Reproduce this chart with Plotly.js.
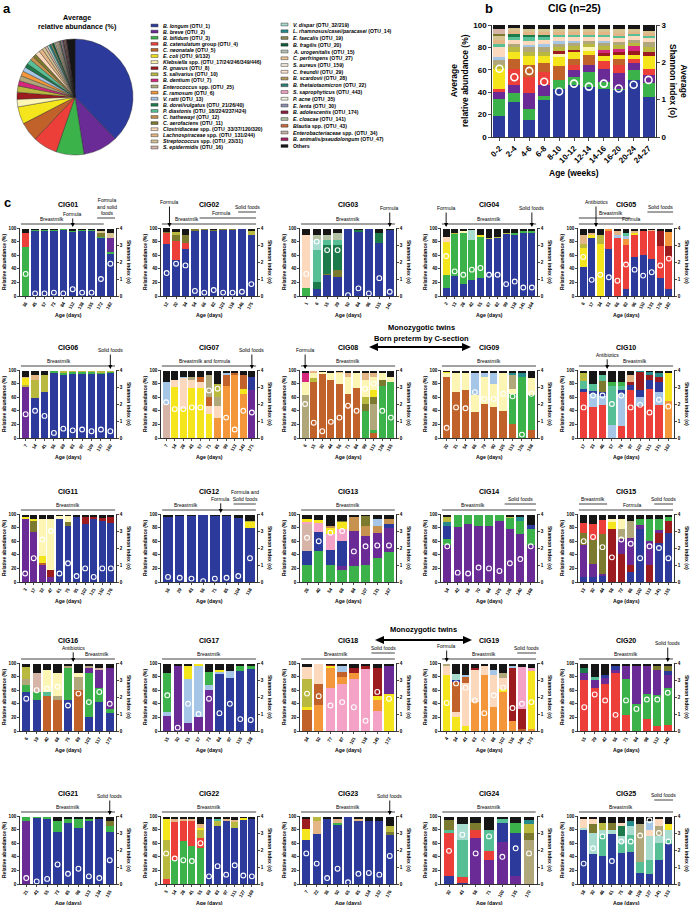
<!DOCTYPE html>
<html><head><meta charset="utf-8">
<script src="https://cdn.plot.ly/plotly-3.0.1.min.js"></script>
<style>body{margin:0;background:#fff}#chart{width:694px;height:905px}</style>
</head><body><div id="chart"></div>
<script>
// ---------------- taxa ----------------
const TAXA_KEYS = ['L','Br','Bi','Ca','Cn','Ec','Kl','Rg','Ss','Bd','En','Er','Vr','Do','Pd','Ch','Cae','Cl','La','St','Se',
  'Vd','Lr','Ef','Bf','Au','Cp','Sa','Cf','Bs','Bt','Ssa','Pa','El','Bad','Ecl','Bl','Eb','Ba','O'];
const TAXA_NAMES = [
'<i>B. longum</i> (OTU_1)','<i>B. breve</i> (OTU_2)','<i>B. bifidum</i> (OTU_3)','<i>B. catenulatum</i> group (OTU_4)',
'<i>C. neonatale</i> (OTU_5)','<i>E. coli</i> (OTU_9/132)','<i>Klebsiella</i> spp. (OTU_17/24/246/349/446)','<i>R. gnavus</i> (OTU_8)',
'<i>S. salivarius</i> (OTU_10)','<i>B. dentium</i> (OTU_7)','<i>Enterococcus</i> spp. (OTU_25)','<i>E. ramosum</i> (OTU_6)',
'<i>V. ratti</i> (OTU_13)','<i>B. dorei/vulgatus</i> (OTU_21/26/40)','<i>P. diastonis</i> (OTU_18/224/237/424)','<i>C. hathewayi</i> (OTU_12)',
'<i>C. aerofaciens</i> (OTU_11)','<i>Clostridiaceae</i> spp. (OTU_33/37/120/320)','<i>Lachnospiraceae</i> spp. (OTU_131/244)',
'<i>Streptococcus</i> spp. (OTU_23/31)','<i>S. epidermidis</i> (OTU_16)',
'<i>V. dispar</i> (OTU_32/219)','<i>L. rhamnosus/casei/paracasei</i> (OTU_14)','<i>E. faecalis</i> (OTU_19)','<i>B. fragilis</i> (OTU_20)',
'<i>A. urogenitalis</i> (OTU_15)','<i>C. perfringens</i> (OTU_27)','<i>S. aureus</i> (OTU_159)','<i>C. freundii</i> (OTU_29)',
'<i>B. scardovii</i> (OTU_28)','<i>B. thetaiotaomicron</i> (OTU_22)','<i>S. saprophyticus</i> (OTU_443)','<i>P. acne</i> (OTU_35)',
'<i>E. lenta</i> (OTU_30)','<i>B. adolescentis</i> (OTU_174)','<i>E. cloacae</i> (OTU_141)','<i>Blautia</i> spp. (OTU_43)',
'<i>Enterobacteriaceae</i> spp. (OTU_34)','<i>B. animalis/pseudolongum</i> (OTU_47)','Others'];
const TAXA_COLORS = ['#2b3a9b','#6a2b96','#3bb34a','#ec3f3a','#c1622a','#f5e51c','#fcf5b4','#9b1b1f','#b9b93f','#d5287c',
  '#b0a87a','#f4973a','#a5c6e6','#1d7a4b','#57bf95','#c79150','#7c7a2e','#fcd9bd','#e5b685','#d7c493','#d6b5a8',
  '#a8dccf','#268b8c','#8b8a55','#0e5c36','#b5c5b5','#efc693','#f2eadd','#fbe1cb','#b79b5e','#2e7d73','#f4a3c7',
  '#f0f0df','#8d8eb4','#8a1d3c','#b3c3a3','#c6693b','#c3b3a6','#a0215f','#161616'];

// ---------------- panel a ----------------
const PIE_VALUES = [39,10,8,7,5.5,5,2.2,2,1.8,1.5,1.5,1.4,1.3,1.1,1.5,1.1,1.0,1.3,1.1,0.9,0.7,
  0.6,0.5,0.5,0.5,0.4,0.4,0.3,0.3,0.3,0.3,0.3,0.2,0.2,0.2,0.2,0.2,0.2,0.2,2.4];

// ---------------- panel b ----------------
const B_AGES = ['0-2','2-4','4-6','6-8','8-10','10-12','12-14','14-16','16-20','20-24','24-27'];
const B_SHANNON = [1.83,1.6,1.77,1.48,1.22,1.43,1.35,1.43,1.3,1.4,1.53];
const B_STACK = {
  L:[19,31,15,33,43,46,45,43,42,51,36], Bi:[15,8,10,4,8,8,13,6,1,9,12], Br:[6,7,14,9,0,6,6,12,14,6,7],
  Ca:[3,15,15,12,0,4,0,7,7,4,6], Cn:[0,9,10,8,12,6,9,0,6,0,0], Ec:[18,6,8,6,8,6,4,4,3,3,11],
  Kl:[0,0,0,0,3,0,3,0,0,0,0], Rg:[0,0,0,0,3,2,0,3,3,4,4], Bd:[0,0,0,0,0,0,0,3,3,4,0],
  Ss:[3,4,4,4,3,3,3,3,3,3,4], En:[5,3,4,4,3,3,3,3,3,3,5], Vr:[2,0,2,3,3,2,0,2,0,0,0],
  Cl:[9,4,4,4,3,3,3,3,3,3,3], Pd:[3,2,3,2,2,2,2,2,2,2,2], Do:[0,3,2,2,0,0,0,0,0,0,0],
  La:[4,3,3,3,3,3,3,3,3,2,3], St:[3,2,2,2,2,2,2,2,3,2,2], Cae:[2,0,0,0,0,0,0,0,0,0,0],
  Se:[4,0,0,0,0,0,0,0,0,0,0], O:[4,3,4,4,4,4,4,4,4,4,5]};

// ---------------- panel c : one small object per infant ----------------
const CIG01 = {age:['36','45','57','73','84','112','138','155','172','182'], sh:[1.3,0.15,0.15,0.2,0.15,0.4,0.2,0.2,1.0,1.9],
  L:[0,96,96,96,97,94,96,96,85,62], Bi:[72,1,1,1,1,1,1,1,2,3], Br:[0,0,0,0,0,0,0,0,0,20], Ca:[20,0,0,0,0,0,0,0,0,0],
  Cae:[0,0,0,0,0,0,0,0,5,0], St:[0,0,0,0,0,0,0,0,3,8], O:[7,2,2,2,1,4,2,2,3,5]};
const CIG02 = {age:['12','20','34','54','66','82','103','118','146','175'], sh:[1.35,1.9,1.8,0.3,0.2,0.35,0.2,0.2,0.25,0.7],
  L:[77,53,69,96,97,95,97,97,98,89], Ca:[15,28,9,0,0,0,0,0,0,0], Cae:[2,9,12,2,1,2,1,1,0,0], Ss:[0,4,0,0,0,0,0,0,0,6],
  O:[6,5,9,1,1,2,1,1,1,4]};
const CIG03 = {age:['1','6','15','29','50','84','96','115','141'], sh:[1.3,3.2,2.7,2.7,0.05,0.45,0.15,1.05,0.25],
  L:[0,10,31,28,99,94,99,78,97], Bi:[12,0,0,0,0,0,0,0,0], Cae:[0,0,2,10,0,0,0,0,0], Do:[0,10,42,37,0,3,0,15,0],
  Pd:[0,48,7,7,0,0,0,0,0], Vd:[0,14,0,0,0,0,0,0,0], Ecl:[0,8,8,10,0,0,0,0,0], Cl:[77,0,0,0,0,0,0,0,0], O:[9,8,9,7,0,2,0,6,2]};
const CIG04 = {age:['2','13','28','42','55','67','82','99','118','141','164'], sh:[2.35,1.45,1.25,1.55,1.65,1.25,1.25,0.7,0.85,0.5,0.5],
  L:[12,30,18,23,26,84,85,91,90,92,93], Bi:[19,61,75,59,61,0,0,0,2,3,3], Ec:[49,0,0,0,3,0,0,0,0,0,0],
  Ss:[0,2,0,0,0,2,2,2,0,0,0], Kl:[0,0,2,0,0,0,0,0,0,0,0], Vd:[0,0,0,15,0,0,0,0,0,0,0], Cl:[7,0,0,0,0,0,0,0,0,0,0],
  O:[12,6,4,2,9,13,12,6,7,4,3]};
const CIG05 = {age:['6','17','34','53','66','82','96','110','133','176','182'], sh:[2.3,0.95,1.25,1.1,0.9,1.85,1.55,1.2,1.4,1.8,2.2],
  L:[43,85,0,69,0,10,57,61,55,27,11], Ca:[0,0,0,27,86,65,33,35,40,47,48], Ec:[27,5,76,0,0,0,3,0,0,0,0],
  Ss:[7,0,14,0,0,0,0,0,0,0,0], Rg:[0,0,0,0,0,0,0,0,0,21,14], Er:[0,0,0,2,0,9,0,0,0,0,21], Vr:[0,0,0,0,3,4,0,0,0,0,0],
  Pd:[0,0,0,0,0,5,0,0,0,0,0], La:[13,2,0,0,7,0,3,0,2,0,0], O:[9,7,9,1,3,6,3,3,2,4,5]};
const CIG06 = {age:['7','14','41','56','69','83','97','109','137','160'], sh:[1.4,1.6,1.3,0.3,0.55,0.45,0.5,0.4,0.5,0.4],
  L:[0,59,68,96,93,94,94,94,94,95], Br:[75,0,0,0,0,0,0,0,0,0], Bi:[0,0,0,2,3,3,3,3,2,2], Ss:[3,27,25,0,2,1,1,1,2,1],
  Ec:[10,0,0,0,0,0,0,0,0,0], La:[2,6,0,0,0,0,0,0,0,0], O:[8,6,5,1,1,1,1,1,1,1]};
const CIG07 = {age:['7','14','28','43','57','71','85','99','113','143','171'], sh:[2.1,1.7,1.7,1.8,1.8,2.8,2.9,1.2,0.5,1.6,1.5],
  Br:[0,0,0,0,0,0,0,0,0,0,70], L:[0,0,0,0,0,0,0,0,0,0,20], Se:[50,0,0,0,0,0,0,0,0,0,0], Er:[0,0,0,0,0,0,30,77,93,64,0],
  Ec:[0,75,42,73,73,35,0,0,0,8,0], Cl:[0,10,46,12,9,12,17,0,0,0,0], Cn:[0,0,0,0,8,13,0,16,3,20,0],
  En:[0,0,0,5,0,32,13,0,0,0,0], Ss:[0,0,0,0,0,0,20,0,0,0,0], Vr:[33,0,2,0,0,0,0,3,0,0,0], O:[15,14,9,9,9,7,19,3,3,7,8]};
const CIG08 = {age:['6','15','30','44','56','71','84','99','113','128','155'], sh:[2.0,0.9,0.4,0.95,1.2,1.9,1.6,2.9,3.2,1.6,1.2],
  Cn:[0,83,94,85,80,65,73,0,7,0,0], Bi:[0,0,0,0,0,0,0,39,5,76,82], En:[63,0,0,0,0,0,0,0,38,0,0],
  Cae:[0,0,0,0,0,0,0,11,10,9,0], Ss:[0,5,0,0,0,0,0,10,0,0,0], Ec:[0,0,0,0,0,0,0,0,10,0,0],
  Kl:[20,7,3,11,15,25,23,25,20,10,8], Bd:[13,0,0,0,0,0,0,0,0,0,0], La:[0,3,0,0,2,6,0,10,5,0,0], O:[3,1,2,3,2,3,3,4,4,4,9]};
const CIG09 = {age:['20','31','54','66','79','90','105','113','126','158'], sh:[0.6,1.8,1.75,2.7,2.3,2.3,2.6,2.45,0.2,2.6],
  Cn:[90,68,70,38,50,45,39,20,0,12], Bi:[0,0,0,0,0,0,0,44,90,51], Kl:[5,28,26,25,40,35,56,8,0,25],
  Vr:[0,0,0,32,5,15,0,0,0,0], En:[0,0,0,0,0,0,0,21,0,0], Lr:[0,0,0,0,0,0,0,2,6,0], Ec:[2,0,0,0,0,0,0,0,0,0],
  O:[2,3,3,4,4,4,4,4,3,11]};
const CIG10 = {age:['17','33','46','57','78','97','102','111','131','162'], sh:[1.8,2.5,2.5,2.0,2.5,1.8,1.95,1.5,2.25,1.85],
  Ca:[68,45,49,0,17,70,47,72,48,0], Er:[0,0,0,0,0,0,0,0,0,55], Vr:[0,20,13,19,47,0,13,0,19,0], L:[4,4,6,0,6,8,10,13,16,0],
  Cae:[0,0,16,0,0,0,0,0,0,0], Pd:[12,11,8,57,7,0,0,0,0,0], Bi:[0,0,0,6,5,0,0,0,0,0], Rg:[0,0,0,0,0,4,27,8,7,0],
  Lr:[0,0,0,0,0,0,2,4,5,0], Ss:[11,0,0,0,0,0,0,0,0,0], Ec:[0,0,0,0,0,0,0,0,0,40], La:[0,0,0,0,0,10,0,0,0,0],
  O:[4,19,7,17,17,7,0,2,4,4]};
const CIG11 = {age:['3','17','32','47','61','75','91','102','121','150','176'], sh:[0.5,1.4,2.5,3.0,0.5,1.1,0.35,0.8,0.3,0.8,0.8],
  Br:[93,73,25,8,0,0,0,0,0,0,0], L:[0,0,0,0,92,82,96,85,93,90,87], Rg:[0,0,0,9,0,0,0,10,2,4,8], Cn:[0,0,3,0,0,0,0,0,0,0,0],
  Cae:[0,17,0,0,0,6,0,0,0,0,0], Ec:[3,2,10,0,0,0,0,0,0,0,0], Kl:[0,0,55,76,5,9,0,0,0,0,0], O:[3,7,6,6,2,2,3,4,4,5,4]};
const CIG12 = {age:['16','29','43','56','71','85','104','118'], sh:[0.3,0.25,0.2,0.05,0.2,0.25,0.35,1.4],
  L:[96,97,97,99,97,97,94,79], Ec:[0,0,0,0,0,0,0,9], Ss:[0,0,0,0,0,0,0,2], O:[3,2,2,0,2,2,5,9]};
const CIG13 = {age:['26','40','54','68','84','107','131','167'], sh:[2.6,2.4,2.9,3.0,1.8,2.1,2.15,2.15],
  Bi:[25,45,25,17,24,25,35,44], Br:[0,0,0,7,51,42,37,36], L:[20,29,22,37,0,0,0,5], Se:[40,0,0,0,0,0,0,0],
  Ssa:[3,13,23,17,0,0,0,0], Ec:[4,4,10,10,0,0,0,0], Ch:[0,0,3,0,21,15,10,7], Cae:[0,0,0,2,0,15,0,0],
  Vr:[0,0,0,0,0,0,10,0], O:[7,8,16,9,3,2,7,7]};
const CIG14 = {age:['14','42','56','70','84','105','126','140','168'], sh:[2.1,0.55,0.5,0.85,0.8,0.65,1.1,1.35,2.1],
  Br:[55,81,86,82,82,90,78,71,55], Bi:[8,17,13,16,16,8,16,18,23], L:[20,0,0,0,0,0,0,0,6], Lr:[5,0,0,0,0,0,0,6,0],
  Ss:[8,0,0,0,0,0,2,0,0], O:[3,1,0,1,1,1,3,4,15]};
const CIG15 = {age:['13','30','44','58','72','86','100','113','141','155'], sh:[2.4,2.65,2.05,1.45,2.5,2.25,1.4,2.1,2.0,1.4],
  L:[7,8,9,0,0,15,78,0,58,72], Rg:[0,0,0,78,41,10,0,25,14,17], Br:[48,19,3,0,22,40,6,35,5,0], Cae:[17,35,58,0,0,0,0,0,0,0],
  Ca:[15,24,21,0,0,0,0,0,0,0], Bi:[0,0,0,0,0,0,8,32,15,7], Ec:[0,0,0,10,0,0,0,0,0,0], En:[0,0,0,0,15,25,0,0,0,0],
  Kl:[0,0,0,5,14,0,0,0,0,0], O:[12,13,8,6,7,9,7,7,7,3]};
const CIG16 = {age:['6','19','40','68','75','89','103','117','173'], sh:[1.9,2.4,2.5,2.6,1.5,2.2,1.7,2.3,1.6],
  L:[58,45,0,0,45,0,20,42,27], Cn:[0,0,52,46,0,60,0,0,0], Bi:[9,12,0,0,47,0,65,21,5], Pd:[0,0,6,0,0,0,0,0,0],
  Br:[0,0,0,0,0,0,7,27,61], En:[9,0,0,6,4,20,3,0,0], Se:[0,29,0,0,0,0,0,3,0], Ss:[18,0,0,0,0,0,0,0,0],
  Kl:[0,0,32,34,0,6,0,0,0], O:[5,13,9,13,3,13,4,6,6]};
const CIG17 = {age:['15','30','51','57','73','84','97','115','138'], sh:[2.1,0.2,1.6,1.0,1.9,1.05,1.6,0.7,0.65],
  Br:[22,95,12,20,61,0,0,0,0], L:[0,0,0,0,0,84,78,88,91], Vr:[6,0,65,75,6,3,10,0,0], Bi:[58,0,0,0,20,0,0,8,5],
  Ec:[0,0,18,3,0,3,0,0,0], O:[13,4,4,1,12,9,11,3,3]};
const CIG18 = {age:['34','50','77','87','101','118','145','172'], sh:[2.2,2.05,1.5,1.7,1.4,0.6,2.3,1.9],
  Ssa:[0,0,63,69,76,91,29,0], Er:[0,38,29,11,9,0,16,0], Cn:[31,31,0,7,0,0,0,0], Ec:[4,0,4,0,0,0,7,55],
  Ss:[41,0,0,0,0,0,0,0], Rg:[0,0,1,0,8,5,40,0], Br:[0,0,0,0,0,0,0,40], Cl:[18,29,0,0,0,0,0,0], Vr:[0,0,0,8,0,0,0,0],
  O:[5,1,2,4,6,3,7,4]};
const CIG19 = {age:['4','34','43','63','77','88','102','116','146','173'], sh:[1.65,2.8,2.55,1.8,1.05,2.1,2.55,1.35,1.6,1.7],
  Er:[0,0,0,42,83,35,57,15,0,3], Ec:[83,20,7,0,0,0,5,0,0,85], Cl:[12,8,63,48,12,48,16,0,0,0], Cn:[0,44,10,0,0,0,0,0,3,0],
  Rg:[0,0,0,2,0,0,0,77,30,0], Ssa:[0,0,0,0,0,0,0,0,61,5], Vr:[0,0,3,0,0,7,0,4,0,0], L:[0,3,0,0,0,0,0,0,0,0],
  En:[4,0,0,0,0,0,7,0,0,0], Vd:[0,9,0,0,0,0,0,0,0,0], O:[0,15,16,7,4,9,14,3,5,6]};
const CIG20 = {age:['15','29','42','56','71','84','98','112','140'], sh:[1.4,2.15,1.8,0.95,1.8,1.3,1.85,1.85,2.25],
  Ca:[75,63,69,85,23,0,17,7,9], Bi:[0,0,0,0,53,40,38,46,54], Br:[11,12,9,5,19,56,40,37,19], L:[0,0,4,5,0,0,0,0,6],
  Do:[6,0,0,0,0,0,0,0,0], Pd:[0,5,0,0,0,0,0,0,0], Cae:[0,0,0,0,0,0,0,5,7], O:[7,19,17,4,4,3,4,4,4]};
const CIG21 = {age:['21','43','55','73','85','98','113','134','155'], sh:[0.35,0.15,0.3,1.15,0.6,0.9,0.45,0.35,1.4],
  Br:[93,0,0,0,0,0,0,0,0], L:[0,97,96,77,90,83,93,95,77], Bi:[6,2,3,16,5,12,3,0,8], Cae:[0,0,0,0,0,0,0,0,7],
  O:[0,0,0,6,4,4,3,4,7]};
const CIG22 = {age:['5','14','28','41','55','69','83','97','111','127','169'], sh:[1.8,1.5,1.4,1.35,2.4,0.45,1.05,0.55,1.1,0.5,0.45],
  Bi:[0,36,63,56,53,0,0,0,0,0,0], Ca:[7,55,30,37,15,0,0,0,0,0,0], L:[0,0,0,0,0,95,85,93,83,94,95],
  Ss:[58,0,0,0,11,0,8,0,8,0,0], Ec:[31,0,0,0,4,0,0,0,0,3,0], Pd:[0,0,0,0,0,0,3,0,0,0,0], La:[0,5,3,2,5,0,0,3,3,0,0],
  O:[3,3,3,4,11,4,3,3,5,2,4]};
const CIG23 = {age:['7','22','36','50','65','85','114','152','176'], sh:[1.8,1.2,0.35,0.9,0.1,0.6,0.65,0.55,1.65],
  L:[64,73,96,87,98,92,92,92,72], Bi:[0,0,0,3,0,0,0,0,0], Ec:[17,0,0,0,0,0,0,0,0], Rg:[14,0,0,0,0,0,0,0,0],
  La:[0,20,0,6,0,4,0,0,0], Cae:[0,0,0,0,0,0,0,0,5], Ss:[0,5,0,0,0,0,0,0,8], O:[4,1,3,3,1,3,7,7,14]};
const CIG24 = {age:['30','43','58','71','100','135','170'], sh:[1.95,2.9,1.8,2.8,1.6,2.1,1.8],
  Br:[0,0,68,35,62,12,0], L:[12,2,0,0,28,63,0], Ca:[63,8,12,13,0,0,0], Pd:[4,55,0,32,6,0,0], Vd:[0,23,0,0,0,0,0],
  Bi:[0,0,0,0,0,15,0], En:[0,0,0,0,0,0,65], Cae:[15,0,10,0,0,0,10], Ss:[0,0,0,0,0,0,13], Lr:[0,0,0,0,0,0,6],
  O:[5,11,9,19,3,9,5]};
const CIG25 = {age:['18','30','46','61','75','88','108','127','141','153'], sh:[1.2,2.1,2.8,1.35,2.5,2.5,2.85,3.75,3.0,2.5],
  L:[79,44,41,73,45,47,16,15,35,59], Pd:[0,0,31,0,15,25,17,20,25,6], Vd:[4,31,8,7,10,13,0,35,10,15], Do:[0,0,0,0,15,0,0,0,0,0],
  Lr:[0,0,0,0,0,7,0,0,0,0], En:[0,0,0,0,0,0,55,0,15,0], Ss:[0,0,10,0,0,0,0,0,0,0], Cae:[0,13,0,10,0,0,0,0,0,0],
  Cl:[12,8,0,0,5,0,0,10,10,0], Vr:[0,0,0,0,0,0,0,12,0,0], Ec:[0,0,0,0,0,0,0,0,0,8], O:[4,3,9,9,9,7,11,7,4,11]};

// treatment / diet event marks: ['line', x0, x1, level, text, labelX] or ['arrow', x, level, text]
const EVENTS = {
 CIG01:[['line',-0.5,8.3,0,'Breastmilk',2.8],['arrow',5,1,'Formula'],['line',7.6,9.5,1,'Formula<br>and solid<br>foods',8.6]],
 CIG02:[['line',-0.5,9.5,0,'Breastmilk',2.2],['line',3.5,9.5,1,'Formula',5.8],['line',7.6,9.5,2,'Solid foods'],['arrow',0.3,3,'Formula']],
 CIG03:[['line',-0.5,8.5,0,'Breastmilk'],['arrow',8,2,'Formula']],
 CIG04:[['arrow',0,2,'Formula'],['line',-0.5,10.5,0,'Breastmilk'],['arrow',10,2,'Solid foods']],
 CIG05:[['arrow',1.5,3,'Antibiotics'],['line',-0.5,5.5,1,'Breastmilk',3.2],['line',-0.5,10.5,0,'Formula',5.6],['line',7.5,10.5,2,'Solid foods']],
 CIG06:[['line',-0.5,9.5,0,'Breastmilk',3.5],['arrow',9,2,'Solid foods']],
 CIG07:[['line',-0.5,10.5,0,'Breastmilk and formula',4.5],['arrow',10,2,'Solid foods']],
 CIG08:[['arrow',0,2,'Formula'],['line',-0.5,10.5,0,'Breastmilk']],
 CIG09:[['line',-0.5,9.5,0,'Breastmilk']],
 CIG10:[['arrow',2.5,1.2,'Antibiotics'],['line',-0.5,9.5,0,'Breastmilk',5.5]],
 CIG11:[['line',-0.5,10.5,0,'Breastmilk']],
 CIG12:[['line',-0.5,7.5,0,'Breastmilk',1.5],['arrow',4.5,1.2,'Formula'],['line',5.6,7.5,1,'Formula and<br>Solid foods',6.6]],
 CIG13:[['line',-0.5,7.5,0,'Breastmilk']],
 CIG14:[['line',-0.5,8.5,0,'Breastmilk',2.5],['line',5.5,8.5,1,'Solid foods']],
 CIG15:[['line',-0.5,2.5,1,'Breastmilk'],['line',-0.5,9.5,0,'Formula',5.2],['line',7.5,9.5,1,'Solid foods']],
 CIG16:[['arrow',4.5,1.2,'Antibiotics'],['line',-0.5,8.5,0,'Breastmilk',6.8]],
 CIG17:[['line',-0.5,8.5,0,'Breastmilk']],
 CIG18:[['line',-0.5,7.5,0,'Breastmilk',2.5],['line',5.5,7.5,1,'Solid foods']],
 CIG19:[['arrow',0,1.5,'Formula'],['line',-0.5,9.5,0,'Breastmilk',4],['line',7.5,9.5,1,'Solid foods']],
 CIG20:[['line',-0.5,8.5,0,'Breastmilk'],['arrow',8,2,'Solid foods']],
 CIG21:[['line',-0.5,8.5,0,'Breastmilk'],['arrow',8,2,'Solid foods']],
 CIG22:[['line',-0.5,10.5,0,'Breastmilk']],
 CIG23:[['line',-0.5,8.5,0,'Breastmilk'],['arrow',8,2,'Solid foods']],
 CIG24:[['line',-0.5,6.5,0,'Breastmilk']],
 CIG25:[['line',-0.5,9.5,0,'Breastmilk',4],['line',7.5,9.5,2,'Solid foods']]
};
const PANELS = [['CIG01',CIG01],['CIG02',CIG02],['CIG03',CIG03],['CIG04',CIG04],['CIG05',CIG05],
 ['CIG06',CIG06],['CIG07',CIG07],['CIG08',CIG08],['CIG09',CIG09],['CIG10',CIG10],
 ['CIG11',CIG11],['CIG12',CIG12],['CIG13',CIG13],['CIG14',CIG14],['CIG15',CIG15],
 ['CIG16',CIG16],['CIG17',CIG17],['CIG18',CIG18],['CIG19',CIG19],['CIG20',CIG20],
 ['CIG21',CIG21],['CIG22',CIG22],['CIG23',CIG23],['CIG24',CIG24],['CIG25',CIG25]];

// ---------------- drawing ----------------
const W = 694, H = 905;
const px = v => v / W, py = v => 1 - v / H;
const FONT = 'Liberation Sans, Arial, Helvetica, sans-serif';
const colorOf = {}; TAXA_KEYS.forEach((k, i) => colorOf[k] = TAXA_COLORS[i]);
const traces = [], annotations = [], shapes = [];
const layout = {width: W, height: H, margin: {l: 0, r: 0, t: 0, b: 0}, paper_bgcolor: '#fff', plot_bgcolor: 'rgba(0,0,0,0)',
  showlegend: false, barmode: 'stack', bargap: 0.2, font: {family: FONT, color: '#000'}, annotations, shapes};

function txt(x, y, text, size, o = {}) {
  annotations.push({xref: 'paper', yref: 'paper', x: px(x), y: py(y), text, showarrow: false,
    font: {size, family: FONT, color: '#000', weight: o.weight || 'bold'}, xanchor: o.xa || 'center', yanchor: o.ya || 'middle',
    textangle: o.angle || 0});
}
function axisY(domain, range, tickvals, fs, extra) {
  return Object.assign({domain, range, tickvals, showline: true, linewidth: 0.8, linecolor: '#000', ticks: 'outside', ticklen: 2,
    tickwidth: 0.7, tickcolor: '#000', showgrid: false, zeroline: false, fixedrange: true,
    tickfont: {size: fs, family: FONT, weight: 'bold', color: '#000'}}, extra || {});
}

// panel a
txt(7, 9, 'a', 13);
txt(77, 22, 'Average<br>relative abundance (%)', 7.2);
traces.push({type: 'pie', values: PIE_VALUES, labels: TAXA_KEYS, marker: {colors: TAXA_COLORS, line: {color: '#222', width: 0.4}},
  sort: false, direction: 'clockwise', rotation: 0, textinfo: 'none', hoverinfo: 'none',
  domain: {x: [px(16), px(134)], y: [py(155), py(39)]}});
TAXA_NAMES.forEach((name, i) => {
  const c1 = i < 21;
  const y = c1 ? 25.5 + 6.1 * i : 24.5 + 6.75 * (i - 21);
  const sx = c1 ? 151 : 281;
  shapes.push({type: 'rect', xref: 'paper', yref: 'paper', x0: px(sx), x1: px(sx + 7), y0: py(y + 1.4), y1: py(y - 1.4),
    fillcolor: TAXA_COLORS[i], line: {color: '#333', width: 0.5}});
  txt(sx + 10, y, name, 5.2, {xa: 'left'});
});

// panel b
txt(489, 8, 'b', 13);
txt(574, 8, 'CIG (n=25)', 10.5);
{
  const idx = B_AGES.map((_, i) => i);
  layout.xaxis = axisY([px(492), px(656)], [-0.5, 10.5], idx, 8, {ticktext: B_AGES, tickangle: -45, anchor: 'y', ticklen: 3});
  layout.yaxis = axisY([py(137), py(25)], [0, 100], [0, 20, 40, 60, 80, 100], 8, {anchor: 'x', ticklen: 3});
  layout.yaxis2 = axisY([py(137), py(25)], [0, 3], [0, 1, 2, 3], 8, {anchor: 'x', overlaying: 'y', side: 'right', ticklen: 3});
  Object.keys(B_STACK).forEach(k => traces.push({type: 'bar', x: idx, y: B_STACK[k], xaxis: 'x', yaxis: 'y',
    marker: {color: colorOf[k], line: {width: 0}}, hoverinfo: 'skip'}));
  traces.push({type: 'scatter', mode: 'markers', x: idx, y: B_SHANNON, xaxis: 'x', yaxis: 'y2', hoverinfo: 'skip',
    marker: {symbol: 'circle-open', size: 7, color: '#fff', line: {width: 1.6, color: '#fff'}}});
  txt(459, 81, 'Average<br>relative abundance (%)', 8.5, {angle: -90});
  txt(679, 81, 'Average<br>Shannon index (o)', 8.5, {angle: 90});
  txt(574, 173, 'Age (weeks)', 8.5);
}

// panel c
txt(8, 203, 'c', 13);
const COLS_X = [20, 161, 300, 441, 578], ROWS_Y = [228, 370, 514, 663, 816], PW = 96, PH = 68;
PANELS.forEach(([name, d], p) => {
  const row = Math.floor(p / 5), col = p % 5;
  const left = COLS_X[col], top = ROWS_Y[row], right = left + PW, bottom = top + PH, cx = (left + right) / 2;
  const n = d.age.length, idx = d.age.map((_, i) => i);
  const xn = p + 2, yl = 2 * p + 3, yr = 2 * p + 4, xa = 'x' + xn;
  layout['xaxis' + xn] = axisY([px(left), px(right)], [-0.6, n - 0.4], idx, 4.6,
    {ticktext: d.age, tickangle: -60, anchor: 'y' + yl});
  layout['yaxis' + yl] = axisY([py(bottom), py(top)], [0, 100], [0, 20, 40, 60, 80, 100], 4.6, {anchor: xa});
  layout['yaxis' + yr] = axisY([py(bottom), py(top)], [0, 4], [0, 1, 2, 3, 4], 4.6,
    {anchor: xa, overlaying: 'y' + yl, side: 'right'});
  Object.keys(d).filter(k => k !== 'age' && k !== 'sh').forEach(k => traces.push({type: 'bar', x: idx, y: d[k],
    xaxis: xa, yaxis: 'y' + yl, marker: {color: colorOf[k], line: {width: 0}}, hoverinfo: 'skip'}));
  traces.push({type: 'scatter', mode: 'markers', x: idx, y: d.sh, xaxis: xa, yaxis: 'y' + yr, hoverinfo: 'skip',
    marker: {symbol: 'circle-open', size: 4.8, color: '#fff', line: {width: 1.1, color: '#fff'}}});
  txt(cx, top - 23, name, 7);
  txt(left - 16, (top + bottom) / 2, 'Relative abundance (%)', 5, {angle: -90});
  txt(right + 13, (top + bottom) / 2, 'Shannon index (o)', 5, {angle: 90});
  txt(cx, bottom + 19, 'Age (days)', 5.2);
  (EVENTS[name] || []).forEach(ev => {
    if (ev[0] === 'line') {
      const [, x0, x1, lvl, text, lx] = ev;
      const ly = top - 4 - 6 * lvl;
      shapes.push({type: 'line', xref: xa, yref: 'paper', x0, x1, y0: py(ly), y1: py(ly), line: {color: '#444', width: 1}});
      annotations.push({xref: xa, yref: 'paper', x: lx !== undefined ? lx : (x0 + x1) / 2, y: py(ly - 0.3), yanchor: 'bottom',
        text, showarrow: false, font: {size: 5, family: FONT, color: '#000'}});
    } else {
      const [, x, lvl, text] = ev;
      const hy = top - 1, ty = top - 8 - 6 * lvl;
      annotations.push({xref: xa, yref: 'paper', x, y: py(hy), ax: 0, ay: -(hy - ty), axref: 'pixel', ayref: 'pixel',
        showarrow: true, arrowhead: 2, arrowsize: 0.9, arrowwidth: 0.9, arrowcolor: '#000', text,
        font: {size: 5, family: FONT, color: '#000'}});
    }
  });
});

// twin markers
function twin(cx, ty, lines, ay, x0, x1) {
  lines.forEach((t, i) => txt(cx, ty + 10 * i, t, 7.5));
  shapes.push({type: 'line', xref: 'paper', yref: 'paper', x0: px(x0 + 6), x1: px(x1 - 6), y0: py(ay), y1: py(ay),
    line: {color: '#000', width: 2.2}});
  const tri = (tip, dir) => `M${px(tip)},${py(ay)} L${px(tip + dir * 9)},${py(ay - 4)} L${px(tip + dir * 9)},${py(ay + 4)} Z`;
  shapes.push({type: 'path', xref: 'paper', yref: 'paper', path: tri(x0, 1), fillcolor: '#000', line: {width: 0}});
  shapes.push({type: 'path', xref: 'paper', yref: 'paper', path: tri(x1, -1), fillcolor: '#000', line: {width: 0}});
}
twin(421, 328, ['Monozygotic twins', 'Born preterm by C-section'], 347, 369, 471);
twin(423, 629, ['Monozygotic twins'], 640, 375, 472);

Plotly.newPlot('chart', traces, layout, {staticPlot: true, displayModeBar: false});
</script></body></html>
